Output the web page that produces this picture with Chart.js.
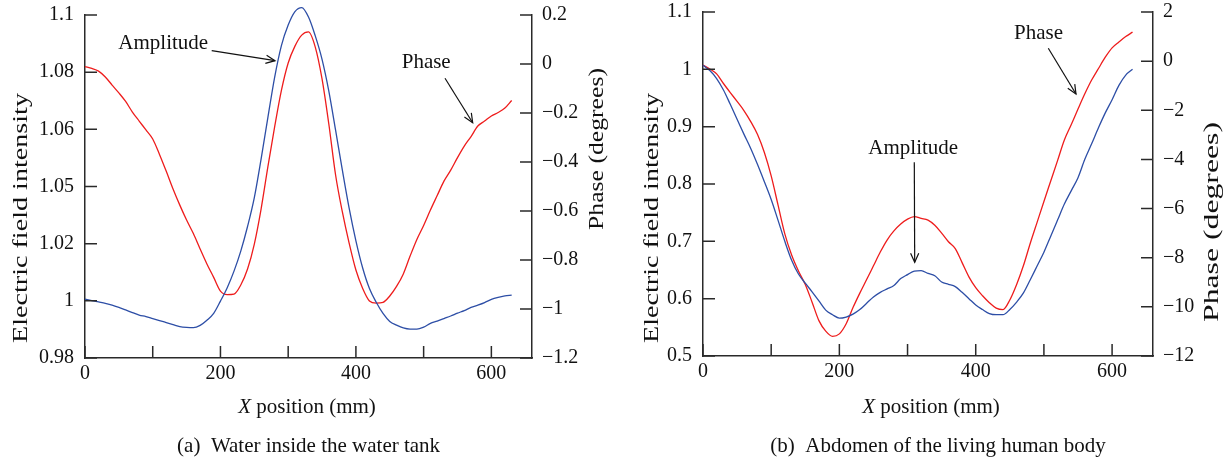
<!DOCTYPE html>
<html><head><meta charset="utf-8">
<script src="https://cdn.jsdelivr.net/npm/chart.js@4.4.1/dist/chart.umd.min.js"></script>
<style>
html,body{margin:0;padding:0;background:#fff;}
#wrap{display:flex;width:1228px;height:461px;}
canvas{display:block;}
</style></head><body>
<div id="wrap"><canvas id="ca" width="614" height="461"></canvas><canvas id="cb" width="614" height="461"></canvas></div>
<script>
// ---- data (x position in mm) ----
const xPos = [0,10,20,30,40,50,60,70,80,90,100,110,120,130,140,150,160,170,180,190,200,210,220,230,240,250,260,270,280,290,300,310,320,330,340,350,360,370,380,390,400,410,420,430,440,450,460,470,480,490,500,510,520,530,540,550,560,570,580,590,600,610,620,630];

// (a) Water inside the water tank
const ampWater = [1.0006,1.0001,0.9996,0.9991,0.9985,0.9977,0.9968,0.9959,0.9950,0.9945,0.9938,0.9931,0.9924,0.9917,0.9910,0.9907,0.9906,0.9914,0.9932,0.9956,0.9999,1.0046,1.0104,1.0174,1.0260,1.0361,1.0496,1.0641,1.0782,1.0893,1.0965,1.1012,1.1026,1.0993,1.0927,1.0845,1.0734,1.0597,1.0457,1.0324,1.0210,1.0115,1.0043,0.9995,0.9956,0.9928,0.9915,0.9905,0.9901,0.9901,0.9908,0.9921,0.9929,0.9938,0.9947,0.9957,0.9966,0.9977,0.9985,0.9994,1.0005,1.0012,1.0017,1.0020];
const phaseWater = [-0.011,-0.018,-0.029,-0.053,-0.086,-0.118,-0.153,-0.196,-0.233,-0.269,-0.306,-0.369,-0.438,-0.510,-0.576,-0.637,-0.692,-0.755,-0.816,-0.871,-0.927,-0.941,-0.939,-0.902,-0.837,-0.735,-0.592,-0.420,-0.257,-0.108,0.004,0.073,0.118,0.131,0.069,-0.061,-0.245,-0.453,-0.604,-0.731,-0.841,-0.916,-0.967,-0.976,-0.973,-0.947,-0.908,-0.857,-0.784,-0.716,-0.659,-0.596,-0.537,-0.478,-0.433,-0.382,-0.335,-0.296,-0.253,-0.233,-0.212,-0.198,-0.180,-0.149];

// (b) Abdomen of the living human body
const ampBody = [1.007,0.998,0.984,0.964,0.939,0.913,0.887,0.862,0.834,0.804,0.773,0.737,0.700,0.667,0.643,0.627,0.612,0.596,0.580,0.572,0.566,0.568,0.573,0.581,0.592,0.603,0.611,0.617,0.623,0.635,0.642,0.648,0.649,0.644,0.640,0.629,0.625,0.621,0.611,0.600,0.589,0.581,0.574,0.572,0.572,0.581,0.594,0.610,0.633,0.657,0.681,0.709,0.737,0.765,0.788,0.811,0.843,0.870,0.898,0.924,0.947,0.972,0.990,1.000];
const phaseBody = [-0.16,-0.32,-0.52,-0.91,-1.28,-1.64,-2.01,-2.46,-2.99,-3.72,-4.67,-5.85,-7.03,-7.89,-8.54,-9.09,-9.81,-10.56,-10.99,-11.20,-11.10,-10.69,-10.03,-9.44,-8.89,-8.33,-7.77,-7.28,-6.91,-6.63,-6.43,-6.33,-6.40,-6.47,-6.68,-7.00,-7.35,-7.63,-8.20,-8.78,-9.22,-9.55,-9.83,-10.05,-10.11,-9.72,-9.09,-8.32,-7.41,-6.56,-5.71,-4.88,-4.05,-3.21,-2.59,-1.95,-1.33,-0.77,-0.30,0.16,0.54,0.78,1.00,1.18];

// ---- ticks ----
const xTicks = [0,100,200,300,400,500,600];
const xTickLabels = ['0','','200','','400','','600'];
const ampTicksWater = [0.98,1.00,1.02,1.04,1.06,1.08,1.10];
const ampTickLabelsWater = ['0.98','1','1.02','1.05','1.06','1.08','1.1'];
const phaseTicksWater = [-1.2,-1.0,-0.8,-0.6,-0.4,-0.2,0,0.2];
const phaseTickLabelsWater = ['\u22121.2','\u22121','\u22120.8','\u22120.6','\u22120.4','\u22120.2','0','0.2'];
const ampTicksBody = [0.5,0.6,0.7,0.8,0.9,1.0,1.1];
const ampTickLabelsBody = ['0.5','0.6','0.7','0.8','0.9','1','1.1'];
const phaseTicksBody = [-12,-10,-8,-6,-4,-2,0,2];
const phaseTickLabelsBody = ['\u221212','\u221210','\u22128','\u22126','\u22124','\u22122','0','2'];

// ---- texts ----
const yTitleAmp = 'Electric field intensity';
const yTitlePhase = 'Phase (degrees)';
const xTitleItalic = 'X';
const xTitleRest = ' position (mm)';
const captionWater = '(a)  Water inside the water tank';
const captionBody = '(b)  Abdomen of the living human body';

const FAMILY = '"Liberation Serif", "Times New Roman", serif';
const INK = '#111';
const AXIS = '#2a2a2a';
const BLUE = '#2d4ea6';
const RED = '#ee1c1c';

Chart.defaults.font.family = FAMILY;

function arrow(ctx, x1, y1, x2, y2) {
  ctx.beginPath(); ctx.moveTo(x1, y1); ctx.lineTo(x2, y2); ctx.stroke();
  const a = Math.atan2(y2 - y1, x2 - x1), L = 10, w = 0.42;
  ctx.beginPath();
  ctx.moveTo(x2 - L * Math.cos(a - w), y2 - L * Math.sin(a - w));
  ctx.lineTo(x2, y2);
  ctx.lineTo(x2 - L * Math.cos(a + w), y2 - L * Math.sin(a + w));
  ctx.stroke();
}
function vText(ctx, text, bx, cy, size, len) {
  ctx.save();
  ctx.font = size + 'px ' + FAMILY;
  const w = ctx.measureText(text).width;
  ctx.translate(bx, cy); ctx.rotate(-Math.PI / 2); ctx.scale(len / w, 1);
  ctx.textAlign = 'center'; ctx.textBaseline = 'alphabetic';
  ctx.fillText(text, 0, 0);
  ctx.restore();
}

const decor = {
  id: 'decor',
  afterDraw(chart, args, o) {
    const ctx = chart.ctx, off = o.offset;
    ctx.save();
    // inward tick marks
    ctx.strokeStyle = AXIS; ctx.lineWidth = 1.5;
    const xs = chart.scales.x, ya = chart.scales.yA, yp = chart.scales.yP;
    ctx.beginPath();
    xs.ticks.forEach(t => { const p = xs.getPixelForValue(t.value); ctx.moveTo(p, xs.top); ctx.lineTo(p, xs.top - 12); });
    ya.ticks.forEach(t => { const p = ya.getPixelForValue(t.value); ctx.moveTo(ya.right, p); ctx.lineTo(ya.right + 12, p); });
    yp.ticks.forEach(t => { const p = yp.getPixelForValue(t.value); ctx.moveTo(yp.left, p); ctx.lineTo(yp.left - 12, p); });
    ctx.stroke();
    ctx.fillStyle = INK;
    // vertical titles
    vText(ctx, yTitleAmp, o.ampTitle[0] - off, o.ampTitle[1], 22, o.ampTitle[2]);
    vText(ctx, yTitlePhase, o.phaseTitle[0] - off, o.phaseTitle[1], 22, o.phaseTitle[2]);
    // x title with italic X
    ctx.textBaseline = 'alphabetic'; ctx.textAlign = 'left';
    ctx.font = 'italic 21px ' + FAMILY;
    const w1 = ctx.measureText(xTitleItalic).width;
    ctx.font = '21px ' + FAMILY;
    const w2 = ctx.measureText(xTitleRest).width;
    const sx = o.xTitle[0] - off - (w1 + w2) / 2;
    ctx.font = 'italic 21px ' + FAMILY; ctx.fillText(xTitleItalic, sx, o.xTitle[1]);
    ctx.font = '21px ' + FAMILY; ctx.fillText(xTitleRest, sx + w1, o.xTitle[1]);
    // caption
    ctx.textAlign = 'center';
    ctx.fillText(o.caption, o.capPos[0] - off, o.capPos[1]);
    // annotations
    ctx.textAlign = 'left';
    ctx.strokeStyle = INK; ctx.lineWidth = 1.2;
    o.notes.forEach(n => {
      ctx.fillText(n.text, n.tx - off, n.ty);
      arrow(ctx, n.a[0] - off, n.a[1], n.a[2] - off, n.a[3]);
    });
    ctx.restore();
  }
};

function setTicks(arr) { return s => { s.ticks = arr.map(v => ({ value: v })); }; }
function noPad(s) { s.paddingTop = 0; s.paddingBottom = 0; s.paddingLeft = 0; s.paddingRight = 0; }
const tickFont = { size: 20, family: FAMILY };

function makePanel(id, c) {
  const ds = (vals, axis, color) => ({
    data: xPos.map((x, i) => ({ x: x, y: vals[i] })),
    yAxisID: axis, borderColor: color, borderWidth: 1.3, pointRadius: 0,
    cubicInterpolationMode: 'monotone', clip: false, fill: false
  });
  return new Chart(document.getElementById(id), {
    type: 'line',
    data: { datasets: [ds(c.amp, 'yA', BLUE), ds(c.phase, 'yP', RED)] },
    options: {
      responsive: false, animation: false, devicePixelRatio: 1,
      layout: { padding: { top: c.top, left: 0, right: 0, bottom: 0 } },
      plugins: { legend: { display: false }, tooltip: { enabled: false }, decor: c.decor },
      scales: {
        x: {
          type: 'linear', min: 0, max: 660,
          afterBuildTicks: setTicks(xTicks),
          afterFit: s => { s.height = c.xh; noPad(s); },
          ticks: { callback: (v, i) => xTickLabels[i], font: tickFont, color: INK, padding: 4, maxRotation: 0, autoSkip: false },
          grid: { display: false, drawTicks: false },
          border: { display: true, color: AXIS, width: 1.5 }
        },
        yA: {
          type: 'linear', position: 'left', min: c.ampTicks[0], max: c.ampTicks[c.ampTicks.length - 1],
          afterBuildTicks: setTicks(c.ampTicks),
          afterFit: s => { s.width = c.lw; noPad(s); },
          ticks: { callback: (v, i) => c.ampLabels[i], font: tickFont, color: INK, padding: 11, autoSkip: false },
          grid: { display: false, drawTicks: false },
          border: { display: true, color: AXIS, width: 1.5 }
        },
        yP: {
          type: 'linear', position: 'right', min: c.phaseTicks[0], max: c.phaseTicks[c.phaseTicks.length - 1],
          afterBuildTicks: setTicks(c.phaseTicks),
          afterFit: s => { s.width = c.rw; noPad(s); },
          ticks: { callback: (v, i) => c.phaseLabels[i], font: tickFont, color: INK, padding: 10, autoSkip: false },
          grid: { display: false, drawTicks: false },
          border: { display: true, color: AXIS, width: 1.5 }
        }
      }
    },
    plugins: [decor]
  });
}

makePanel('ca', {
  amp: ampWater, phase: phaseWater,
  ampTicks: ampTicksWater, ampLabels: ampTickLabelsWater,
  phaseTicks: phaseTicksWater, phaseLabels: phaseTickLabelsWater,
  top: 15, xh: 103, lw: 85, rw: 82,
  decor: {
    offset: 0,
    ampTitle: [27, 218, 250], phaseTitle: [603, 149, 162],
    xTitle: [307, 413], caption: captionWater, capPos: [308.6, 451.7],
    notes: [
      { text: 'Amplitude', tx: 118.3, ty: 49.3, a: [211.7, 50.7, 275, 60.7] },
      { text: 'Phase', tx: 401.7, ty: 68.3, a: [445, 78.3, 472.7, 122.7] }
    ]
  }
});
makePanel('cb', {
  amp: ampBody, phase: phaseBody,
  ampTicks: ampTicksBody, ampLabels: ampTickLabelsBody,
  phaseTicks: phaseTicksBody, phaseLabels: phaseTickLabelsBody,
  top: 12, xh: 105, lw: 89, rw: 75,
  decor: {
    offset: 614,
    ampTitle: [658, 218, 250], phaseTitle: [1218, 222, 200],
    xTitle: [931, 413], caption: captionBody, capPos: [938, 451.7],
    notes: [
      { text: 'Amplitude', tx: 868.3, ty: 154, a: [914.3, 162.3, 914.7, 262.3] },
      { text: 'Phase', tx: 1014, ty: 39.3, a: [1048.3, 48.3, 1076, 94] }
    ]
  }
});
</script>
</body></html>
